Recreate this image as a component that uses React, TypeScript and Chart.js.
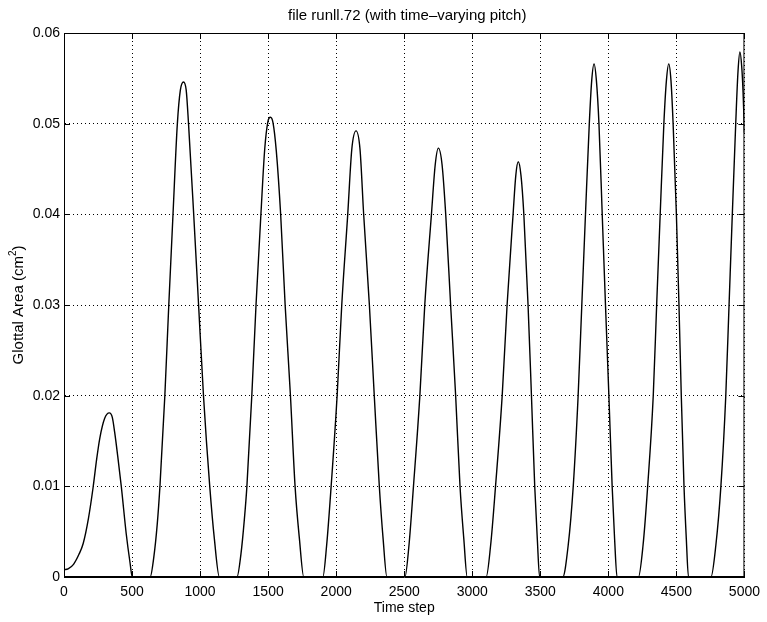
import React, { useEffect, useRef } from "react";
import { Chart, registerables } from "chart.js";

Chart.register(...registerables);

const TITLE = "file runll.72 (with time\u2013varying pitch)";
const X_LABEL = "Time step";
const Y_LABEL_MAIN = "Glottal Area (cm";
const Y_LABEL_SUP = "2";
const Y_LABEL_END = ")";

const xTickValues = [0, 500, 1000, 1500, 2000, 2500, 3000, 3500, 4000, 4500, 5000];
const yTickValues = [0, 0.01, 0.02, 0.03, 0.04, 0.05, 0.06];

const timeSteps = [
  0, 30, 70, 110, 141, 180, 214, 240, 263, 299, 333, 355, 372, 395, 421, 457, 485, 502,
  633, 660, 685, 705, 741, 770, 801, 833, 855, 878, 898, 915, 953, 989, 1025, 1071, 1105, 1142,
  1271, 1300, 1325, 1344, 1380, 1411, 1447, 1475, 1498, 1517, 1536, 1560, 1592, 1625, 1664, 1698, 1730, 1762,
  1902, 1930, 1963, 2007, 2041, 2085, 2115, 2146, 2175, 2202, 2244, 2280, 2317, 2345, 2373,
  2505, 2535, 2568, 2615, 2651, 2700, 2728, 2751, 2778, 2805, 2841, 2878, 2910, 2938, 2963,
  3102, 3135, 3171, 3220, 3256, 3300, 3320, 3338, 3358, 3379, 3410, 3435, 3459, 3478, 3495,
  3665, 3705, 3742, 3778, 3805, 3832, 3860, 3878, 3895, 3912, 3931, 3955, 3979, 4004, 4028, 4046, 4064,
  4221, 4255, 4289, 4330, 4355, 4381, 4408, 4427, 4444, 4460, 4476, 4500, 4519, 4536, 4556, 4573, 4589,
  4754, 4790, 4827, 4863, 4887, 4911, 4936, 4953, 4967, 4980, 4990, 5000,
];

const glottalArea = [
  0.0008, 0.0009, 0.0014, 0.0025, 0.0037, 0.0065, 0.0099, 0.013, 0.0153, 0.0175, 0.0181, 0.0176, 0.016, 0.0133, 0.01, 0.0048, 0.0016, 0,
  0, 0.0022, 0.0058, 0.01, 0.02, 0.03, 0.04, 0.05, 0.0537, 0.0546, 0.0537, 0.05, 0.04, 0.03, 0.02, 0.01, 0.0042, 0,
  0, 0.0025, 0.0063, 0.01, 0.02, 0.03, 0.04, 0.0472, 0.0502, 0.0507, 0.0501, 0.047, 0.04, 0.03, 0.02, 0.01, 0.0042, 0,
  0, 0.0035, 0.01, 0.02, 0.03, 0.04, 0.0472, 0.0492, 0.0472, 0.04, 0.03, 0.02, 0.01, 0.0042, 0,
  0, 0.0035, 0.01, 0.02, 0.03, 0.04, 0.0455, 0.0473, 0.0455, 0.04, 0.03, 0.02, 0.01, 0.0042, 0,
  0, 0.0035, 0.01, 0.02, 0.03, 0.04, 0.0443, 0.0458, 0.0443, 0.04, 0.03, 0.02, 0.01, 0.0042, 0,
  0, 0.0035, 0.01, 0.02, 0.03, 0.04, 0.05, 0.0548, 0.0566, 0.0548, 0.05, 0.04, 0.03, 0.02, 0.01, 0.0042, 0,
  0, 0.0035, 0.01, 0.02, 0.03, 0.04, 0.05, 0.0548, 0.0566, 0.0548, 0.05, 0.04, 0.03, 0.02, 0.01, 0.0042, 0,
  0, 0.0035, 0.01, 0.02, 0.03, 0.04, 0.05, 0.0558, 0.0579, 0.0563, 0.0535, 0.049,
];

const FONT = "'Liberation Sans', Arial, Helvetica, sans-serif";

const framePlugin = {
  id: "matlabFrame",
  afterDraw(chart: any) {
    const { ctx, chartArea } = chart;
    const { left, right, top, bottom } = chartArea;
    const xs = chart.scales.x;
    const ys = chart.scales.y;
    ctx.save();
    ctx.strokeStyle = "#000";
    ctx.lineWidth = 1;
    ctx.setLineDash([]);
    ctx.strokeRect(left + 0.5, top + 0.5, right - left - 1, bottom - top - 1);
    ctx.beginPath();
    const tl = 6;
    xTickValues.forEach((v) => {
      const px = Math.round(xs.getPixelForValue(v)) + 0.5;
      ctx.moveTo(px, bottom);
      ctx.lineTo(px, bottom - tl);
      ctx.moveTo(px, top);
      ctx.lineTo(px, top + tl);
    });
    yTickValues.forEach((v) => {
      const py = Math.round(ys.getPixelForValue(v)) + 0.5;
      ctx.moveTo(left, py);
      ctx.lineTo(left + tl, py);
      ctx.moveTo(right, py);
      ctx.lineTo(right - tl, py);
    });
    ctx.stroke();

    const cx = (left + right) / 2;
    ctx.fillStyle = "#000";
    ctx.textAlign = "center";
    ctx.textBaseline = "alphabetic";
    ctx.font = `15px ${FONT}`;
    ctx.fillText(TITLE, cx + 3, 20);
    ctx.font = `14px ${FONT}`;
    ctx.fillText(X_LABEL, cx, 612);

    // y label rotated with superscript
    ctx.translate(19, (top + bottom) / 2);
    ctx.rotate(-Math.PI / 2);
    ctx.textBaseline = "middle";
    ctx.textAlign = "left";
    ctx.font = `15px ${FONT}`;
    const w1 = ctx.measureText(Y_LABEL_MAIN).width;
    const w3 = ctx.measureText(Y_LABEL_END).width;
    ctx.font = `10px ${FONT}`;
    const w2 = ctx.measureText(Y_LABEL_SUP).width;
    const total = w1 + w2 + w3;
    let x0 = -total / 2;
    ctx.font = `15px ${FONT}`;
    ctx.fillText(Y_LABEL_MAIN, x0, 0);
    x0 += w1;
    ctx.font = `10px ${FONT}`;
    ctx.fillText(Y_LABEL_SUP, x0, -6);
    x0 += w2;
    ctx.font = `15px ${FONT}`;
    ctx.fillText(Y_LABEL_END, x0, 0);
    ctx.restore();
  },
};

export default function App() {
  const canvasRef = useRef<HTMLCanvasElement | null>(null);

  useEffect(() => {
    document.body.style.margin = "0";
    const canvas = canvasRef.current;
    if (!canvas) return;
    const points = timeSteps.map((t, i) => ({ x: t, y: glottalArea[i] }));
    const gridCommon = {
      display: true,
      color: "#000",
      lineWidth: 1,
      drawTicks: false,
    };
    const chart = new Chart(canvas, {
      type: "line",
      data: {
        datasets: [
          {
            data: points,
            borderColor: "#000",
            borderWidth: 1.4,
            pointRadius: 0,
            fill: false,
            cubicInterpolationMode: "monotone",
          },
        ],
      },
      options: {
        animation: false,
        responsive: false,
        maintainAspectRatio: false,
        events: [],
        layout: { padding: { top: 33, right: 18, left: 0, bottom: 0 } },
        plugins: {
          legend: { display: false },
          title: { display: false },
          tooltip: { enabled: false },
        },
        scales: {
          x: {
            type: "linear",
            min: 0,
            max: 5000,
            afterBuildTicks: (scale: any) => {
              scale.ticks = xTickValues.map((v) => ({ value: v }));
            },
            afterFit: (scale: any) => {
              scale.height = 45;
            },
            ticks: {
              color: "#000",
              font: { family: FONT, size: 14 },
              padding: 7,
              maxRotation: 0,
              autoSkip: false,
              callback: (v: any) => String(v),
            },
            grid: { ...gridCommon } as any,
            border: { display: true, color: "#000", dash: [1, 3] } as any,
          },
          y: {
            type: "linear",
            min: 0,
            max: 0.06,
            afterBuildTicks: (scale: any) => {
              scale.ticks = yTickValues.map((v) => ({ value: v }));
            },
            afterFit: (scale: any) => {
              scale.width = 64;
            },
            ticks: {
              color: "#000",
              font: { family: FONT, size: 14 },
              padding: 4,
              autoSkip: false,
              callback: (v: any) => (v === 0 ? "0" : Number(v).toFixed(2)),
            },
            grid: { ...gridCommon } as any,
            border: { display: true, color: "#000", dash: [1, 3] } as any,
          },
        },
      } as any,
      plugins: [framePlugin],
    });
    return () => chart.destroy();
  }, []);

  return (
    <div style={{ position: "absolute", left: 0, top: 0, width: 767, height: 622, background: "#fff" }}>
      <canvas ref={canvasRef} width={767} height={622} style={{ display: "block", width: 767, height: 622 }} />
    </div>
  );
}
